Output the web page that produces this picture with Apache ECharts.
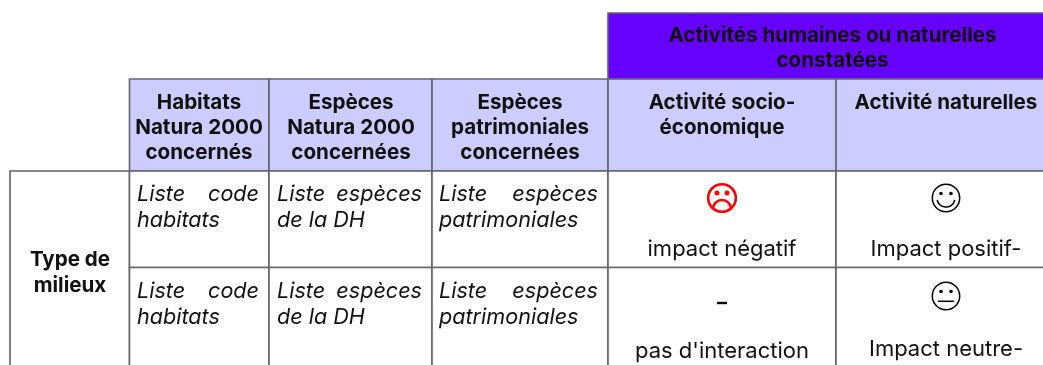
<!DOCTYPE html>
<html><head><meta charset="utf-8">
<style>html,body{margin:0;padding:0;background:#fff}#c{width:1043px;height:365px}</style>
<script src="https://cdn.jsdelivr.net/npm/echarts@6/dist/echarts.min.js"></script>
</head><body><div id="c"></div>
<script>
// ---- table content ----
const groupHeader = ["Activités humaines ou naturelles", "constatées"];
const columnHeaders = [
  ["Habitats", "Natura 2000", "concernés"],
  ["Espèces", "Natura 2000", "concernées"],
  ["Espèces", "patrimoniales", "concernées"],
  ["Activité socio-", "économique"],
  ["Activité naturelles"]
];
const rowHeader = ["Type de", "milieux"];
const listColumns = [
  [["Liste", "code"], "habitats"],
  [["Liste", "espèces"], "de la DH"],
  [["Liste", "espèces"], "patrimoniales"]
];
const impactSocio = ["impact négatif", "pas d'interaction"];
const impactNaturel = ["Impact positif-", "Impact neutre-"];
const symbolsSocio = ["sad", "dash"];
const symbolsNaturel = ["smile", "neutral"];

// ---- layout (axis units) ----
const colEdges = [10, 129.5, 269, 432, 608, 836, 1048];
const rowEdges = [13, 79, 171, 267.5, 372];
const FONT = 'Inter';
const HEAD = `bold 20.6px ${FONT}`, REG = `22px ${FONT}`, ITAL = `italic 21.6px ${FONT}`;
const LINE = '#636370', LILAC = '#CCCCFF', PURPLE = '#6600FF';

// ---- derived marks ----
const rects = [];
rects.push([colEdges[4], rowEdges[0], colEdges[6], rowEdges[1], PURPLE]);
for (let c = 1; c < 6; c++) rects.push([colEdges[c], rowEdges[1], colEdges[c + 1], rowEdges[2], LILAC]);
rects.push([colEdges[0], rowEdges[2], colEdges[1], rowEdges[4], '#fff']);
for (let c = 1; c < 6; c++) for (let r = 2; r < 4; r++)
  rects.push([colEdges[c], rowEdges[r], colEdges[c + 1], rowEdges[r + 1], '#fff']);

const texts = [];
const put = (t, x, y, font, align) => texts.push({ t, x, y, font, align: align || 'center' });
put(groupHeader[0], 832.5, 36, HEAD); put(groupHeader[1], 832.5, 61, HEAD);
const headX = [199, 351, 520, 722, 946];
const headY = [102.5, 128, 153];
columnHeaders.forEach((h, c) => h.forEach((l, i) => put(l, headX[c], headY[i], HEAD)));
put(rowHeader[0], 70, 260, HEAD); put(rowHeader[1], 70, 286, HEAD);
const listLeft = [137, 277, 439], listRight = [259, 422, 598];
const listY = [[194, 220], [291, 317]];
listY.forEach(ys => listColumns.forEach((col, c) => {
  put(col[0][0], listLeft[c], ys[0], ITAL, 'left');
  put(col[0][1], listRight[c], ys[0], ITAL, 'right');
  put(col[1], listLeft[c], ys[1], ITAL, 'left');
}));
put(impactSocio[0], 722, 249.5, REG); put(impactSocio[1], 722, 351, REG);
put(impactNaturel[0], 946, 249.5, REG); put(impactNaturel[1], 946, 349, REG);

const symbols = [
  { kind: symbolsSocio[0], x: 722, y: 198, color: '#FF0000' },
  { kind: symbolsSocio[1], x: 722, y: 303, color: '#000' },
  { kind: symbolsNaturel[0], x: 946, y: 198, color: '#000' },
  { kind: symbolsNaturel[1], x: 946, y: 296, color: '#000' }
];

function faceShapes(s, p) {
  const c = { stroke: s.color, fill: 'none', lineWidth: s.kind === 'sad' ? 2.6 : 1.5 };
  if (s.kind === 'dash') return [{ type: 'rect', shape: { x: p[0] - 5, y: p[1] - 1.2, width: 10, height: 2.4 }, style: { fill: s.color } }];
  const out = [{ type: 'circle', shape: { cx: p[0], cy: p[1], r: s.kind === 'sad' ? 13.8 : 13.7 }, style: c }];
  const eyeR = s.kind === 'sad' ? 2.5 : 1.8, ey = s.kind === 'sad' ? -5 : -4.5;
  [-5, 5].forEach(dx => out.push({ type: 'circle', shape: { cx: p[0] + dx, cy: p[1] + ey, r: eyeR }, style: { fill: s.color } }));
  if (s.kind === 'smile') out.push({ type: 'arc', shape: { cx: p[0], cy: p[1], r: 9, startAngle: 0.2, endAngle: Math.PI - 0.2 }, style: c });
  if (s.kind === 'sad') out.push({ type: 'arc', shape: { cx: p[0], cy: p[1] + 11, r: 9, startAngle: Math.PI, endAngle: 2 * Math.PI }, style: c });
  if (s.kind === 'neutral') out.push({ type: 'line', shape: { x1: p[0] - 8, y1: p[1] + 5.3, x2: p[0] + 8, y2: p[1] + 5.3 }, style: { stroke: s.color, lineWidth: 1.5 } });
  return out;
}

const chart = echarts.init(document.getElementById('c'), null, { renderer: 'canvas' });
chart.setOption({
  animation: false,
  backgroundColor: '#fff',
  grid: { left: 0, right: 0, top: 0, bottom: 0 },
  xAxis: { type: 'value', min: 0, max: 1043, show: false },
  yAxis: { type: 'value', min: 0, max: 365, inverse: true, show: false },
  series: [
    {
      type: 'custom', silent: true, clip: true, z: 1,
      data: rects.map(r => r.slice(0, 4)),
      renderItem(params, api) {
        const r = rects[params.dataIndex];
        const a = api.coord([r[0], r[1]]), b = api.coord([r[2], r[3]]);
        return { type: 'rect', shape: { x: a[0], y: a[1], width: b[0] - a[0], height: b[1] - a[1] },
          style: { fill: r[4], stroke: LINE, lineWidth: 1.6 } };
      }
    },
    {
      type: 'custom', silent: true, clip: true, z: 2,
      data: texts.map(t => [t.x, t.y]),
      renderItem(params, api) {
        const t = texts[params.dataIndex];
        const p = api.coord([t.x, t.y]);
        return { type: 'text', style: { x: p[0], y: p[1], text: t.t, font: t.font, fill: '#111',
          textAlign: t.align, textVerticalAlign: 'middle' } };
      }
    },
    {
      type: 'custom', silent: true, clip: true, z: 3,
      data: symbols.map(s => [s.x, s.y]),
      renderItem(params, api) {
        const s = symbols[params.dataIndex];
        return { type: 'group', children: faceShapes(s, api.coord([s.x, s.y])) };
      }
    }
  ]
});
</script></body></html>
